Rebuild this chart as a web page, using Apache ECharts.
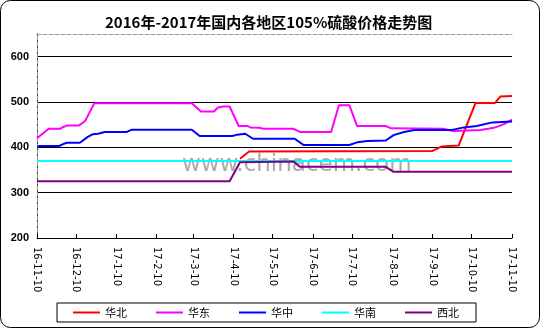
<!DOCTYPE html>
<html><head><meta charset="utf-8">
<script src="https://cdn.jsdelivr.net/npm/echarts@6/dist/echarts.min.js"></script>
<style>html,body{margin:0;padding:0;background:#fff}#c{width:541px;height:329px}</style>
</head><body><div id="c"></div>
<script>
const seriesNames = ['华北', '华东', '华中', '华南', '西北'];
const seriesColors = ['#FF0000', '#FF00FF', '#0000FF', '#00FFFF', '#800080'];

const tickDates = ['2016-11-10','2016-12-10','2017-01-10','2017-02-10','2017-03-10','2017-04-10','2017-05-10','2017-06-10','2017-07-10','2017-08-10','2017-09-10','2017-10-10','2017-11-10'];
const tickLabels = ['16-11-10','16-12-10','17-1-10','17-2-10','17-3-10','17-4-10','17-5-10','17-6-10','17-7-10','17-8-10','17-9-10','17-10-10','17-11-10'];

// 华北
const huabeiDates = ['2017-04-15','2017-04-22','2017-09-10','2017-09-17','2017-09-30','2017-10-13','2017-10-28','2017-11-01','2017-11-10'];
const huabeiValues = [375, 391, 392, 402, 404, 498, 498, 512, 513];
// 华东
const huadongDates = ['2016-11-10','2016-11-19','2016-11-28','2016-11-30','2016-12-03','2016-12-12','2016-12-17','2016-12-24','2017-03-09','2017-03-16','2017-03-26','2017-03-29','2017-04-02','2017-04-07','2017-04-14','2017-04-21','2017-04-23','2017-04-30','2017-05-03','2017-05-26','2017-05-31','2017-06-24','2017-06-30','2017-07-08','2017-07-14','2017-08-05','2017-08-09','2017-09-18','2017-09-26','2017-10-17','2017-10-27','2017-11-03','2017-11-10'];
const huadongValues = [420, 441, 441, 445, 448, 448, 458, 497, 497, 479, 479, 488, 490, 490, 447, 447, 444, 443, 441, 441, 434, 434, 493, 493, 447, 447, 442, 441, 436, 438, 443, 450, 461];
// 华中
const huazhongDates = ['2016-11-10','2016-11-12','2016-11-27','2016-11-30','2016-12-03','2016-12-13','2016-12-19','2016-12-23','2016-12-27','2017-01-01','2017-01-18','2017-01-22','2017-03-09','2017-03-15','2017-04-09','2017-04-13','2017-04-19','2017-04-25','2017-05-27','2017-06-03','2017-07-08','2017-07-14','2017-07-22','2017-08-05','2017-08-11','2017-08-19','2017-08-27','2017-09-24','2017-10-04','2017-10-14','2017-10-26','2017-11-10'];
const huazhongValues = [401, 403, 403, 407, 410, 410, 423, 429, 430, 434, 434, 439, 439, 425, 425, 428, 430, 419, 419, 405, 405, 411, 414, 415, 427, 434, 438, 438, 444, 447, 455, 457];
// 华南
const huananDates = ['2016-11-10','2017-11-10'];
const huananValues = [370, 370];
// 西北
const xibeiDates = ['2016-11-10','2017-04-07','2017-04-15','2017-05-26','2017-05-31','2017-08-05','2017-08-11','2017-11-10'];
const xibeiValues = [325, 325, 367, 369, 357, 357, 346, 346];

const DAY = 86400000;
const startTs = Date.parse(tickDates[0] + 'T00:00:00Z');
function dayOf(s) { return Math.round((Date.parse(s + 'T00:00:00Z') - startTs) / DAY); }
function pairs(d, v) { return d.map((x, i) => [dayOf(x), v[i]]); }

const allDates = [huabeiDates, huadongDates, huazhongDates, huananDates, xibeiDates];
const allValues = [huabeiValues, huadongValues, huazhongValues, huananValues, xibeiValues];
const tickDays = tickDates.map(dayOf);
const xMin = tickDays[0], xMax = tickDays[tickDays.length - 1];

const chart = echarts.init(document.getElementById('c'));
chart.setOption({
  animation: false,
  backgroundColor: '#fff',
  title: {
    text: '2016年-2017年国内各地区105%硫酸价格走势图',
    left: 105, top: 15, padding: 0,
    textStyle: { fontSize: 15, fontWeight: 'bold', fontFamily: 'Noto Sans CJK SC', color: '#000' }
  },
  grid: { left: 37, right: 29, top: 34, bottom: 91 },
  xAxis: [{
    type: 'value', min: xMin, max: xMax,
    axisLine: { lineStyle: { color: '#000', width: 1 } },
    axisTick: { customValues: tickDays, inside: true, length: 4, lineStyle: { color: '#000' } },
    axisLabel: {
      customValues: tickDays, rotate: -90, margin: 9,
      fontSize: 10, fontFamily: 'DejaVu Sans', color: '#000',
      formatter: function (v) {
        const i = tickDays.indexOf(Math.round(v));
        return i >= 0 ? tickLabels[i] : '';
      }
    },
    splitLine: { show: false }
  }, {
    type: 'value', position: 'top', min: xMin, max: xMax,
    axisLine: { show: true, lineStyle: { color: '#999', type: 'dashed' } },
    axisTick: { show: false }, axisLabel: { show: false }, splitLine: { show: false }
  }],
  yAxis: [{
    type: 'value', min: 200, max: 650, interval: 100,
    axisLine: { show: true, lineStyle: { color: '#000' } },
    axisTick: { show: false },
    axisLabel: { fontWeight: 'bold', fontSize: 11, fontFamily: 'Liberation Sans', color: '#000', margin: 8, showMaxLabel: false },
    splitLine: { show: true, showMaxLine: false, lineStyle: { color: '#000', width: 1 } }
  }, {
    type: 'value', position: 'right', min: 200, max: 650, interval: 100,
    axisLine: { show: true, lineStyle: { color: '#999', type: 'dashed' } },
    axisTick: { show: false }, axisLabel: { show: false }, splitLine: { show: false }
  }],
  legend: {
    data: seriesNames, left: 57, top: 303,
    icon: 'rect', itemWidth: 27, itemHeight: 2, itemGap: 29,
    borderColor: '#000', borderWidth: 1, padding: [4, 17, 4, 16],
    textStyle: { fontSize: 11, fontFamily: 'Noto Sans CJK SC', color: '#000' }
  },
  graphic: [
    { type: 'rect', silent: true, z: -10, shape: { x: 0.5, y: 0.5, width: 539, height: 327, r: 10 }, style: { fill: 'none', stroke: '#000', lineWidth: 1 } },
    { type: 'text', silent: true, z: -5, left: 182, top: 154, style: { text: 'www.chinacem.com', fill: '#aaa', font: '23px "DejaVu Sans"' } }
  ],
  series: seriesNames.map((n, i) => ({
    name: n, type: 'line', symbol: 'none', xAxisIndex: 0, yAxisIndex: 0,
    color: seriesColors[i],
    lineStyle: { width: 2, color: seriesColors[i] },
    data: pairs(allDates[i], allValues[i])
  }))
});
</script></body></html>
